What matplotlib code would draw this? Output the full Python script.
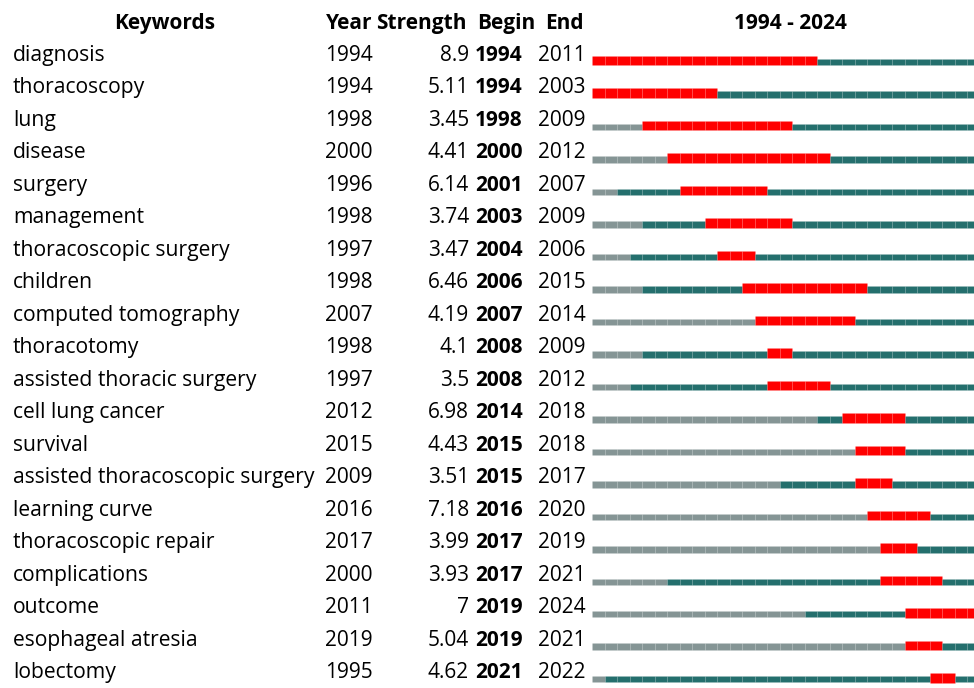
import matplotlib
matplotlib.use("Agg")
import matplotlib.pyplot as plt
from matplotlib.transforms import blended_transform_factory

plt.rcParams['font.family'] = ['Open Sans', 'DejaVu Sans']

# ---- data ----
keywords = ["diagnosis", "thoracoscopy", "lung", "disease", "surgery", "management",
            "thoracoscopic surgery", "children", "computed tomography", "thoracotomy",
            "assisted thoracic surgery", "cell lung cancer", "survival",
            "assisted thoracoscopic surgery", "learning curve", "thoracoscopic repair",
            "complications", "outcome", "esophageal atresia", "lobectomy"]
first_year = [1994, 1994, 1998, 2000, 1996, 1998, 1997, 1998, 2007, 1998,
              1997, 2012, 2015, 2009, 2016, 2017, 2000, 2011, 2019, 1995]
strength = [8.9, 5.11, 3.45, 4.41, 6.14, 3.74, 3.47, 6.46, 4.19, 4.1,
            3.5, 6.98, 4.43, 3.51, 7.18, 3.99, 3.93, 7, 5.04, 4.62]
begin = [1994, 1994, 1998, 2000, 2001, 2003, 2004, 2006, 2007, 2008,
         2008, 2014, 2015, 2015, 2016, 2017, 2017, 2019, 2019, 2021]
end = [2011, 2003, 2009, 2012, 2007, 2009, 2006, 2015, 2014, 2009,
       2012, 2018, 2018, 2017, 2020, 2019, 2021, 2024, 2021, 2022]
start_year, end_year = 1994, 2024

RED = "#ff0000"
TEAL = "#246f6d"
GRAY = "#859595"

W, H = 974, 688
fig = plt.figure(figsize=(W / 100, H / 100), dpi=100)
ax = fig.add_axes([592 / W, 0, 382 / W, 1])
# the timeline runs a little past the right edge of the picture
ax.set_xlim(start_year, start_year + 382 / 12.5)
ax.set_ylim(623 / 32.5, -65 / 32.5)
ax.axis('off')

years = list(range(start_year, end_year + 1))
for i in range(len(keywords)):
    for y in years:
        if begin[i] <= y <= end[i]:
            c, h = RED, 0.29
        elif y < first_year[i]:
            c, h = GRAY, 0.2
        else:
            c, h = TEAL, 0.2
        ax.barh(i - h / 2, 1, left=y, height=h, color=c,
                edgecolor=(1, 1, 1, 0.05), linewidth=0.6)

# text columns: x in figure pixels, y in row units
tr = blended_transform_factory(fig.transFigure, ax.transData)
fs_kw = 15.2
fs = 15
def px(x):
    return x / W

hy = -1.27
ax.text(px(165), hy, "Keywords", transform=tr, ha='center', va='center', fontsize=fs, fontweight='bold')
ax.text(px(326), hy, "Year", transform=tr, ha='left', va='center', fontsize=fs, fontweight='bold')
ax.text(px(467), hy, "Strength", transform=tr, ha='right', va='center', fontsize=fs, fontweight='bold')
ax.text(px(477), hy, "Begin", transform=tr, ha='left', va='center', fontsize=fs, fontweight='bold')
ax.text(px(545), hy, "End", transform=tr, ha='left', va='center', fontsize=fs, fontweight='bold')
ax.text(px(790), hy, f"{start_year} - {end_year}", transform=tr, ha='center', va='center',
        fontsize=fs, fontweight='bold')

for i, kw in enumerate(keywords):
    ty = i - 0.30
    ax.text(px(13), ty, kw, transform=tr, ha='left', va='center', fontsize=fs_kw)
    ax.text(px(325), ty, str(first_year[i]), transform=tr, ha='left', va='center', fontsize=fs)
    ax.text(px(469), ty, f"{strength[i]:g}", transform=tr, ha='right', va='center', fontsize=fs)
    ax.text(px(475), ty, str(begin[i]), transform=tr, ha='left', va='center', fontsize=fs, fontweight='bold')
    ax.text(px(538), ty, str(end[i]), transform=tr, ha='left', va='center', fontsize=fs)

fig.savefig("out.png", dpi=100)
